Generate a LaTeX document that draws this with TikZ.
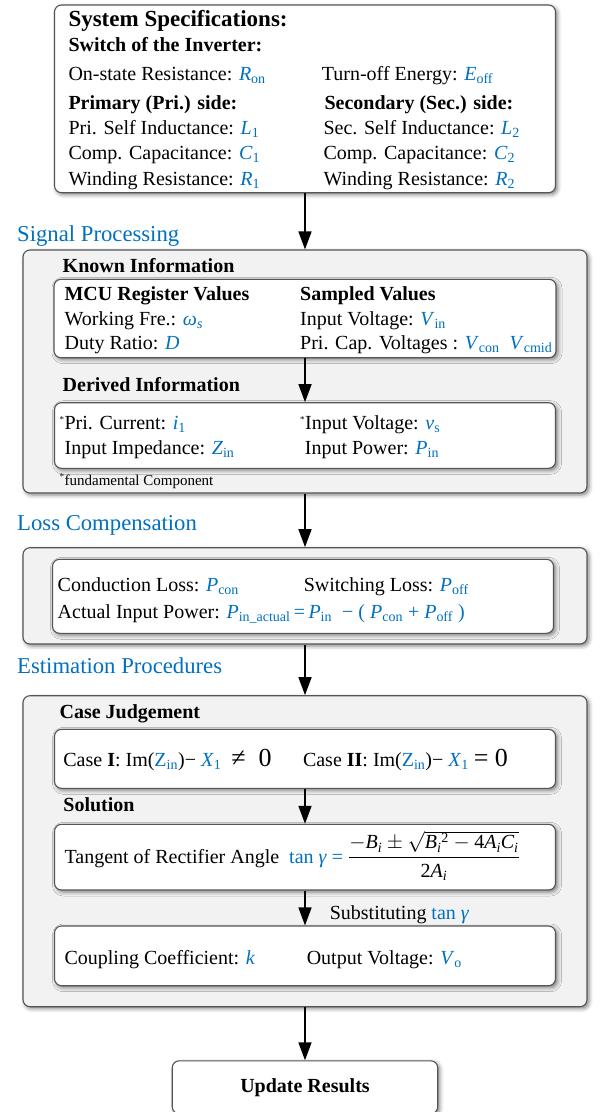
\documentclass[tikz,border=0pt]{standalone}
\usepackage{amsmath}
\usepackage{fontspec}
\setmainfont{Liberation Serif}
\usetikzlibrary{arrows.meta,shadows.blur}
\definecolor{myblue}{RGB}{0,112,192}
\definecolor{edgec}{RGB}{85,85,85}
\definecolor{panelc}{RGB}{242,242,242}
\newcommand{\bv}[1]{\textcolor{myblue}{#1}}
\newcommand{\vi}[2]{\textcolor{myblue}{\textit{#1}\textsubscript{#2}}}
\newcommand{\fnast}{\textsuperscript{\fontsize{9}{9}\selectfont *}}
\begin{document}
\begin{tikzpicture}[x=1pt,y=-1pt,
  box/.style={draw=edgec, line width=1.1pt, rounded corners=7pt, fill=white,
    blur shadow={shadow xshift=2pt, shadow yshift=-2pt, shadow blur radius=4pt, shadow opacity=50}},
  panelbox/.style={box, fill=panelc},
  t/.style={anchor=base west, inner sep=0pt, font=\fontsize{20}{24}\selectfont},
  hd/.style={anchor=base west, inner sep=0pt, font=\fontsize{20}{24}\selectfont\bfseries},
  lbl/.style={anchor=base west, inner sep=0pt, font=\fontsize{22.7}{26}\selectfont, text=myblue},
  arr/.style={line width=1.6pt, -{Triangle[length=18pt,width=13pt]}}]
\useasboundingbox (0,0) rectangle (601,1112);

% ---------- boxes ----------
\node[box, minimum width=501pt, minimum height=187.7pt] (spec) at (305,98.85) {};
\node[panelbox, minimum width=564pt, minimum height=243pt] (sp) at (305,371.5) {};
\node[box, minimum width=502pt, minimum height=78.4pt] (known) at (305,318.5) {};
\node[box, minimum width=501pt, minimum height=65.6pt] (derived) at (305,435.5) {};
\node[panelbox, minimum width=564pt, minimum height=96.3pt] (loss) at (305,595.85) {};
\node[box, minimum width=501pt, minimum height=74pt] (lossin) at (303,596.3) {};
\node[panelbox, minimum width=564pt, minimum height=311pt] (est) at (305,851.2) {};
\node[box, minimum width=501pt, minimum height=59pt] (case) at (305,758.8) {};
\node[box, minimum width=501pt, minimum height=65.7pt] (tanb) at (305,857.15) {};
\node[box, minimum width=501pt, minimum height=59.7pt] (coup) at (305,955.85) {};
\node[box, minimum width=265.5pt, minimum height=53pt, font=\fontsize{20}{24}\selectfont\bfseries] (upd) at (305,1087.3) {Update Results};

% ---------- arrows ----------
\draw[arr] (spec.south) -- (sp.north);
\draw[arr] (known.south) -- (derived.north);
\draw[arr] (sp.south) -- (loss.north);
\draw[arr] (loss.south) -- (est.north);
\draw[arr] (case.south) -- (tanb.north);
\draw[arr] (tanb.south) -- (coup.north);
\draw[arr] (est.south) -- (upd.north);

% ---------- system specifications ----------
\node[anchor=base west, inner sep=0pt, font=\fontsize{23}{27}\selectfont\bfseries] (s0) at (68.3,26.8) {System Specifications:};
\node[hd] (s1) at (68.3,51.5) {Switch of the Inverter:};
\node[t] (s2) at (68.3,80.5) {On-state Resistance: \vi{R}{on}};
\node[t] (s3) at (321.7,80.5) {Turn-off Energy: \vi{E}{off}};
\node[hd] (s4) at (68.3,109.8) {Primary (Pri.) side:};
\node[hd] (s5) at (324.3,109.8) {Secondary (Sec.) side:};
\node[t] (s6) at (68.3,134.8) {Pri. Self Inductance: \vi{L}{1}};
\node[t] (s7) at (323.3,134.8) {Sec. Self Inductance: \vi{L}{2}};
\node[t] (s8) at (68.3,159.2) {Comp. Capacitance: \vi{C}{1}};
\node[t] (s9) at (323.3,159.2) {Comp. Capacitance: \vi{C}{2}};
\node[t] (s10) at (68.3,185.5) {Winding Resistance: \vi{R}{1}};
\node[t] (s11) at (323.3,185.5) {Winding Resistance: \vi{R}{2}};

% ---------- signal processing ----------
\node[lbl] (lsp) at (17,241.5) {Signal Processing};
\node[hd] (k0) at (62.5,272) {Known Information};
\node[hd] (k1) at (64.4,300.8) {MCU Register Values};
\node[hd] (k2) at (300,300.8) {Sampled Values};
\node[t] (k3) at (64.4,325.5) {Working Fre.: \bv{\textit{ω}\textsubscript{\textit{s}}}};
\node[t] (k4) at (300,325.5) {Input Voltage: \vi{V}{in}};
\node[t] (k5) at (64.4,349.8) {Duty Ratio: \bv{\textit{D}}};
\node[t] (k6) at (300,349.8) {Pri. Cap. Voltages : \vi{V}{con}\ \ \vi{V}{cmid}};
\node[hd] (d0) at (62.5,391.5) {Derived Information};
\node[t] (d1) at (59.4,429.8) {\fnast Pri. Current: \bv{\textit{i}\textsubscript{1}}};
\node[t] (d2) at (300,429.8) {\fnast Input Voltage: \bv{\textit{v}\textsubscript{s}}};
\node[t] (d3) at (64.4,454.8) {Input Impedance: \vi{Z}{in}};
\node[t] (d4) at (304.7,454.8) {Input Power: \vi{P}{in}};
\node[anchor=base west, inner sep=0pt, font=\fontsize{15}{18}\selectfont] (fn) at (59.4,485) {\fnast fundamental Component};

% ---------- loss compensation ----------
\node[lbl] (llc) at (17,530) {Loss Compensation};
\node[t] (c1) at (57.5,591.5) {Conduction Loss: \vi{P}{con}};
\node[t] (c2) at (303.6,591.5) {Switching Loss: \vi{P}{off}};
\node[t] (c3) at (57.5,618.2) {Actual Input Power: \vi{P}{in\_actual}\bv{\,=\,}\vi{P}{in}\bv{\ \ −\ (\ }\vi{P}{con}\bv{\ +\ }\vi{P}{off}\bv{\ )}};

% ---------- estimation procedures ----------
\node[lbl] (lep) at (17,673.5) {Estimation Procedures};
\node[hd] (e0) at (59.4,718) {Case Judgement};
\node[t] (e1) at (63.2,766.5) {Case \textbf{I}: Im(\bv{Z\textsubscript{in}})− \vi{X}{1}\ \ {\fontsize{26}{26}\selectfont ≠\ \ 0}};
\node[t] (e2) at (302.8,766.5) {Case \textbf{II}: Im(\bv{Z\textsubscript{in}})− \vi{X}{1}\ {\fontsize{26}{26}\selectfont =\ 0}};
\node[hd] (e3) at (63.2,811.5) {Solution};
\node[t] (e4) at (64.4,863) {Tangent of Rectifier Angle\ \ \bv{tan \textit{γ} =} $\dfrac{-\textit{B}_{\textit{i}}\pm\sqrt{\textit{B}_{\textit{i}}{}^{\text{2}}-\text{4}\textit{A}_{\textit{i}}\textit{C}_{\textit{i}}}}{\text{2}\textit{A}_{\textit{i}}}$};
\node[t] (e5) at (329.6,919) {Substituting \bv{tan \textit{γ}}};
\node[t] (e6) at (64.4,964) {Coupling Coefficient: \bv{\textit{k}}};
\node[t] (e7) at (306.6,964) {Output Voltage: \vi{V}{o}};
\end{tikzpicture}
\end{document}
